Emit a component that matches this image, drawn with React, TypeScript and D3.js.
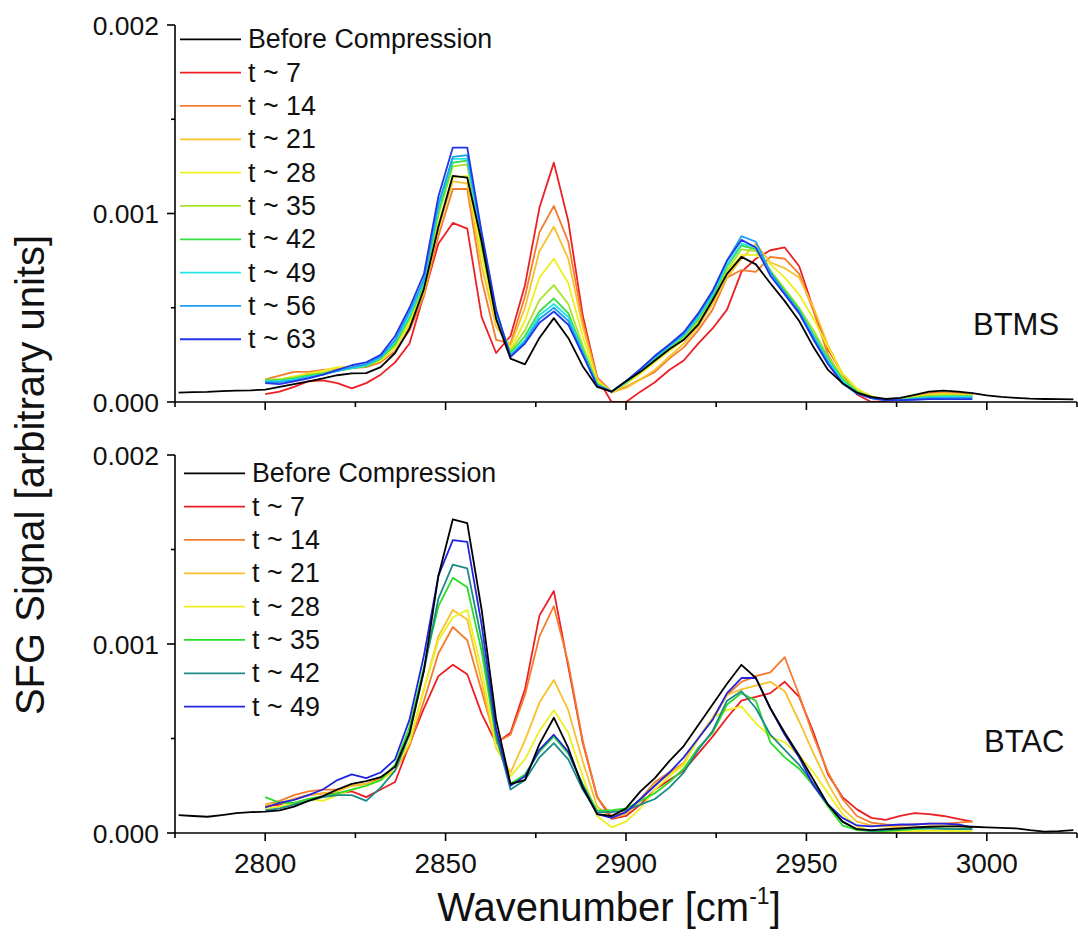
import React from "react";
import * as d3 from "d3";

// ---------- data (signal values in units of 1e-4) ----------
const UNIT = 1e-4;

const wavenumbers = [
  2800, 2804, 2808, 2812, 2816, 2820, 2824, 2828, 2832, 2836,
  2840, 2844, 2848, 2852, 2856, 2860, 2864, 2868, 2872, 2876,
  2880, 2884, 2888, 2892, 2896, 2900, 2904, 2908, 2912, 2916,
  2920, 2924, 2928, 2932, 2936, 2940, 2944, 2948, 2952, 2956,
  2960, 2964, 2968, 2972, 2976, 2980, 2984, 2988, 2992, 2996,
];

const wavenumbersBefore = [
  2776, 2780, 2784, 2788, 2792, 2796,
  2800, 2804, 2808, 2812, 2816, 2820, 2824, 2828, 2832, 2836,
  2840, 2844, 2848, 2852, 2856, 2860, 2864, 2868, 2872, 2876,
  2880, 2884, 2888, 2892, 2896, 2900, 2904, 2908, 2912, 2916,
  2920, 2924, 2928, 2932, 2936, 2940, 2944, 2948, 2952, 2956,
  2960, 2964, 2968, 2972, 2976, 2980, 2984, 2988, 2992, 2996,
  3000, 3004, 3008, 3012, 3016, 3020, 3024,
];

// ----- BTMS (top panel) -----
const btmsBefore = [
  0.5, 0.52, 0.54, 0.58, 0.6, 0.62,
  0.66, 0.8, 0.95, 1.1, 1.25, 1.42, 1.52, 1.53, 1.85, 2.6,
  3.9, 6.0, 9.3, 12.0, 11.9, 8.5, 4.4, 2.3, 2.0, 3.4,
  4.45, 3.4, 1.9, 0.8, 0.55, 1.1, 1.6, 2.2, 2.8, 3.3,
  4.1, 5.4, 6.8, 7.7, 7.3, 6.3, 5.35, 4.3, 2.9, 1.7,
  1.0, 0.5, 0.27, 0.16, 0.22, 0.38, 0.55, 0.6, 0.55, 0.47,
  0.35, 0.27, 0.22, 0.18, 0.16, 0.15, 0.14,
];
const btmsT7 = [
  0.42, 0.55, 0.8, 1.1, 1.15, 1.0, 0.72, 1.0, 1.45, 2.1,
  3.1, 5.7, 8.4, 9.5, 9.2, 4.5, 2.6, 3.5, 6.2, 10.3,
  12.7, 9.6, 4.6, 1.3, 0.0, 0.0, 0.55, 1.05, 1.7, 2.2,
  3.1, 3.9, 4.9, 6.9, 7.6, 8.05, 8.2, 7.2, 4.9, 2.8,
  1.5, 0.4, 0.0, 0.05, 0.15, 0.3, 0.45, 0.5, 0.45, 0.4,
];
const btmsT14 = [
  1.2, 1.4, 1.6, 1.6, 1.7, 1.75, 1.8, 1.85, 2.1, 2.7,
  3.8, 5.6, 8.8, 11.3, 11.3, 6.5, 3.3, 3.1, 5.6, 9.0,
  10.4, 8.5, 4.3, 1.3, 0.55, 0.8, 1.2, 1.6, 2.3, 2.9,
  3.8, 4.9, 6.6, 7.0, 6.9, 7.7, 7.6, 6.8, 4.8, 2.5,
  1.2, 0.6, 0.25, 0.1, 0.15, 0.3, 0.45, 0.5, 0.45, 0.38,
];
const btmsT21 = [
  1.15, 1.2, 1.35, 1.5, 1.65, 1.8, 1.85, 1.9, 2.2, 2.9,
  4.1, 5.8, 9.2, 11.7, 11.6, 7.2, 4.0, 3.0, 5.0, 8.0,
  9.3, 7.6, 4.0, 1.2, 0.5, 0.75, 1.2, 1.7, 2.4, 3.1,
  4.0, 5.2, 6.6, 7.6, 8.4, 7.4, 7.1, 6.6, 5.0, 3.0,
  1.5, 0.7, 0.3, 0.12, 0.15, 0.3, 0.42, 0.45, 0.42, 0.38,
];
const btmsT28 = [
  1.15, 1.2, 1.35, 1.5, 1.65, 1.85, 1.85, 1.95, 2.2, 2.9,
  4.2, 6.0, 9.5, 11.9, 12.0, 7.8, 4.3, 2.8, 4.3, 6.6,
  7.6, 6.3, 3.5, 1.1, 0.55, 0.95, 1.5, 2.1, 2.7, 3.3,
  4.2, 5.4, 6.9, 7.8, 7.8, 7.3, 6.6, 5.7, 4.4, 2.9,
  1.5, 0.7, 0.3, 0.12, 0.15, 0.25, 0.35, 0.4, 0.38, 0.35,
];
const btmsT35 = [
  1.2, 1.2, 1.3, 1.45, 1.55, 1.7, 1.8, 1.9, 2.3, 3.0,
  4.4, 6.2, 9.9, 12.5, 12.6, 8.2, 4.5, 2.7, 3.8, 5.4,
  6.2, 5.2, 3.0, 1.0, 0.55, 1.0, 1.6, 2.2, 2.8, 3.4,
  4.3, 5.5, 7.0, 8.1, 8.0, 7.0, 6.0, 5.0, 3.8, 2.4,
  1.3, 0.6, 0.25, 0.12, 0.15, 0.25, 0.32, 0.35, 0.35, 0.32,
];
const btmsT42 = [
  1.15, 1.15, 1.25, 1.4, 1.5, 1.65, 1.78, 1.9, 2.3, 3.1,
  4.5, 6.3, 10.1, 12.7, 12.8, 8.4, 4.6, 2.6, 3.5, 4.8,
  5.5, 4.7, 2.8, 0.95, 0.55, 1.05, 1.65, 2.3, 2.9, 3.5,
  4.4, 5.6, 7.2, 8.3, 8.1, 6.9, 5.9, 4.9, 3.6, 2.3,
  1.2, 0.55, 0.2, 0.1, 0.12, 0.2, 0.28, 0.3, 0.3, 0.3,
];
const btmsT49 = [
  1.1, 1.1, 1.2, 1.35, 1.45, 1.65, 1.8, 1.95, 2.35, 3.2,
  4.6, 6.4, 10.3, 12.9, 12.9, 8.6, 4.7, 2.5, 3.3, 4.6,
  5.2, 4.5, 2.7, 0.9, 0.55, 1.05, 1.7, 2.35, 2.95, 3.55,
  4.5, 5.7, 7.3, 8.4, 8.2, 6.8, 5.8, 4.8, 3.5, 2.2,
  1.1, 0.5, 0.2, 0.1, 0.1, 0.18, 0.25, 0.28, 0.28, 0.28,
];
const btmsT56 = [
  1.05, 1.05, 1.15, 1.3, 1.45, 1.65, 1.85, 2.0, 2.4, 3.3,
  4.8, 6.5, 10.5, 13.0, 13.1, 8.8, 4.8, 2.45, 3.2, 4.4,
  5.0, 4.3, 2.6, 0.9, 0.55, 1.1, 1.7, 2.4, 3.0, 3.6,
  4.6, 5.8, 7.5, 8.8, 8.5, 6.9, 5.8, 4.8, 3.4, 2.1,
  1.0, 0.45, 0.2, 0.1, 0.1, 0.15, 0.2, 0.22, 0.22, 0.22,
];
const btmsT63 = [
  1.0, 0.95, 1.1, 1.25, 1.45, 1.7, 1.95, 2.1, 2.5, 3.5,
  5.0, 6.8, 10.9, 13.5, 13.5, 9.0, 4.9, 2.4, 3.1, 4.2,
  4.8, 4.1, 2.5, 0.85, 0.55, 1.1, 1.75, 2.45, 3.05, 3.7,
  4.7, 5.9, 7.5, 8.6, 8.2, 6.7, 5.7, 4.7, 3.3, 2.0,
  1.0, 0.45, 0.2, 0.1, 0.1, 0.12, 0.15, 0.15, 0.15, 0.15,
];

// ----- BTAC (bottom panel) -----
const btacBefore = [
  0.95, 0.9, 0.86, 0.95, 1.05, 1.1,
  1.13, 1.2, 1.4, 1.7, 1.95, 2.3, 2.6, 2.75, 2.95, 3.5,
  5.3, 8.6, 13.6, 16.6, 16.4, 11.8, 6.0, 2.6, 2.8, 4.7,
  6.1, 4.5, 2.4, 1.0, 0.9, 1.3, 2.2, 2.9, 3.8, 4.6,
  5.7, 6.8, 7.9, 8.9, 8.2, 6.6, 5.3, 4.1, 2.8, 1.5,
  0.6, 0.2, 0.15, 0.2, 0.25, 0.3, 0.33, 0.35, 0.35, 0.33,
  0.3, 0.27, 0.25, 0.15, 0.07, 0.1, 0.15,
];
const btacT7 = [
  1.4, 1.5, 1.8, 2.0, 2.1, 2.1, 2.2, 1.9, 2.3, 2.7,
  4.7, 6.6, 8.3, 8.9, 8.4, 6.3, 4.75, 5.3, 7.6, 11.5,
  12.8, 8.8, 4.8, 1.9, 0.75, 0.9, 1.5, 2.3, 2.8, 3.3,
  4.2, 5.1, 6.1, 7.0, 7.2, 7.4, 8.0, 7.2, 5.3, 3.1,
  1.9, 1.25, 0.8, 0.7, 0.9, 1.05, 1.0, 0.9, 0.75, 0.6,
];
const btacT14 = [
  1.5, 1.7, 2.0, 2.2, 2.3, 2.3, 2.5, 2.6, 2.9, 3.3,
  4.6, 7.0, 9.5, 10.9, 10.2, 7.5, 4.8, 5.2, 7.3, 10.4,
  12.0, 9.0, 4.9, 1.9, 0.9, 1.1, 1.8, 2.7, 3.2, 3.7,
  5.0, 6.0, 7.3, 8.0, 8.3, 8.5, 9.3, 7.3, 5.1, 3.2,
  1.8, 0.9, 0.55, 0.45, 0.4, 0.45, 0.5, 0.5, 0.55, 0.6,
];
const btacT21 = [
  1.5, 1.6, 1.8, 2.0, 2.1, 2.2, 2.5, 2.6, 2.8, 3.3,
  4.8, 7.6, 10.4, 11.8, 11.3, 8.0, 4.5, 3.2, 4.9, 6.9,
  8.1, 6.5, 3.8, 1.4, 0.8, 1.0, 1.7, 2.6, 3.1, 3.7,
  5.0, 6.1, 7.3, 7.6, 7.8, 8.0, 7.5, 5.9, 4.2, 2.6,
  1.3, 0.6, 0.4, 0.35, 0.3, 0.3, 0.35, 0.35, 0.35, 0.3,
];
const btacT28 = [
  1.3, 1.4, 1.6, 1.8, 1.7, 2.0, 2.3, 2.5, 2.8, 3.3,
  4.8, 7.6, 10.2, 11.4, 11.8, 8.6, 4.6, 3.0, 3.9, 5.4,
  6.5, 5.3, 3.0, 0.9, 0.3, 0.6, 1.3, 2.3, 3.0, 3.6,
  5.0, 6.1, 6.5, 6.7, 5.8, 5.1, 4.8, 4.1, 3.2, 2.1,
  1.0, 0.35, 0.1, 0.05, 0.1, 0.1, 0.12, 0.12, 0.1, 0.1,
];
const btacT35 = [
  1.9, 1.6, 1.6, 1.8, 1.95, 2.1, 2.3, 2.5, 2.8, 3.6,
  5.6, 8.8, 12.0, 13.5, 13.0, 9.6, 5.0, 2.6, 3.1, 4.3,
  5.1, 4.2, 2.6, 1.2, 1.2, 1.3, 1.7, 2.1, 2.7, 3.4,
  4.5, 5.3, 6.8, 7.4, 7.0, 4.8, 4.0, 3.4, 2.5, 1.4,
  0.4, 0.15, 0.1, 0.1, 0.15, 0.2, 0.25, 0.25, 0.22, 0.2,
];
const btacT42 = [
  1.2, 1.3, 1.5, 1.7, 1.9, 2.0, 2.0, 1.7, 2.4, 3.3,
  5.2, 8.6, 12.4, 14.2, 14.0, 10.2, 5.2, 2.3, 2.8, 4.0,
  4.75, 3.9, 2.3, 1.1, 1.1, 1.2, 1.5, 1.8, 2.4, 3.2,
  4.4, 5.4, 7.0, 7.5, 6.6, 5.2, 4.4, 3.6, 2.6, 1.5,
  0.6, 0.2, 0.12, 0.15, 0.2, 0.25, 0.25, 0.22, 0.2, 0.2,
];
const btacT49 = [
  1.35, 1.6, 1.75, 2.0, 2.3, 2.8, 3.1, 2.9, 3.2, 3.9,
  6.0, 9.4, 13.6, 15.5, 15.4, 11.0, 5.5, 2.5, 3.0, 4.4,
  5.2, 4.3, 2.5, 1.0, 0.8, 1.1, 1.8, 2.5, 3.2, 4.0,
  5.0, 6.0, 7.4, 8.2, 8.2, 6.6, 5.2, 4.0, 2.5, 1.5,
  0.8, 0.4, 0.35, 0.4, 0.45, 0.45, 0.5, 0.5, 0.45, 0.3,
];

const btmsLabels = ["Before Compression", "t ~ 7", "t ~ 14", "t ~ 21", "t ~ 28", "t ~ 35", "t ~ 42", "t ~ 49", "t ~ 56", "t ~ 63"];
const btmsColors = ["#000000", "#ec1f24", "#f47b2e", "#f7c12c", "#eef01e", "#a8e32c", "#35dc45", "#24e4e4", "#1c9ff0", "#2236e8"];
const btmsValues = [btmsBefore, btmsT7, btmsT14, btmsT21, btmsT28, btmsT35, btmsT42, btmsT49, btmsT56, btmsT63];

const btacLabels = ["Before Compression", "t ~ 7", "t ~ 14", "t ~ 21", "t ~ 28", "t ~ 35", "t ~ 42", "t ~ 49"];
const btacColors = ["#000000", "#ec1f24", "#f47b2e", "#f7c12c", "#eef01e", "#27dd27", "#1d8a8a", "#2424e0"];
const btacValues = [btacBefore, btacT7, btacT14, btacT21, btacT28, btacT35, btacT42, btacT49];

const xMajorTicks = [2800, 2850, 2900, 2950, 3000];
const xMinorTicks = [2775, 2825, 2875, 2925, 2975, 3025];
const yMajorTicks = [0, 0.001, 0.002];
const yMinorTicks = [0.0005, 0.0015];

// ---------- layout ----------
const W = 1078;
const H = 936;
const LEFT = 175;
const RIGHT = 1077;
const FONT = "'Liberation Sans', Arial, Helvetica, sans-serif";

const x = d3.scaleLinear().domain([2775, 3025]).range([LEFT, RIGHT]);

type PanelProps = {
  id: string;
  top: number;
  bottom: number;
  labels: string[];
  colors: string[];
  values: number[][];
  name: string;
  nameX: number;
  nameY: number;
  legendX: number;
  legendY: number;
  showXLabels: boolean;
};

function Panel(p: PanelProps) {
  const y = d3.scaleLinear().domain([0, 0.002]).range([p.bottom, p.top]);
  const line = d3
    .line<[number, number]>()
    .x((d) => x(d[0]))
    .y((d) => y(d[1] * UNIT));

  const seriesPaths = p.values.map((vals, i) => {
    const xs = i === 0 ? wavenumbersBefore : wavenumbers;
    const pts: [number, number][] = vals.map((v, j) => [xs[j], v]);
    return line(pts) || "";
  });
  // draw coloured ones first, black (Before Compression) on top
  const order = p.values.map((_, i) => i).slice(1).concat([0]);

  return (
    <g>
      <defs>
        <clipPath id={`clip-${p.id}`}>
          <rect x={LEFT} y={p.top} width={RIGHT - LEFT} height={p.bottom - p.top} />
        </clipPath>
      </defs>
      <g clipPath={`url(#clip-${p.id})`}>
        {order.map((i) => (
          <path
            key={i}
            d={seriesPaths[i]}
            fill="none"
            stroke={p.colors[i]}
            strokeWidth={1.8}
            strokeLinejoin="round"
          />
        ))}
      </g>

      {/* axes */}
      <line x1={LEFT} x2={LEFT} y1={p.top} y2={p.bottom} stroke="#000" strokeWidth={1.6} />
      <line x1={LEFT} x2={RIGHT} y1={p.bottom} y2={p.bottom} stroke="#000" strokeWidth={1.6} />
      {yMajorTicks.map((t) => (
        <g key={`ym${t}`}>
          <line x1={LEFT - 8} x2={LEFT} y1={y(t)} y2={y(t)} stroke="#000" strokeWidth={1.6} />
          <text
            x={LEFT - 16}
            y={y(t)}
            dy="0.36em"
            textAnchor="end"
            fontSize={26.5}
            fontFamily={FONT}
            fill="#111"
          >
            {d3.format(".3f")(t)}
          </text>
        </g>
      ))}
      {yMinorTicks.map((t) => (
        <line key={`yn${t}`} x1={LEFT - 4} x2={LEFT} y1={y(t)} y2={y(t)} stroke="#000" strokeWidth={1.6} />
      ))}
      {xMajorTicks.map((t) => (
        <g key={`xm${t}`}>
          <line x1={x(t)} x2={x(t)} y1={p.bottom} y2={p.bottom + 8} stroke="#000" strokeWidth={1.6} />
          {p.showXLabels && (
            <text
              x={x(t)}
              y={p.bottom + 40}
              textAnchor="middle"
              fontSize={28}
              fontFamily={FONT}
              fill="#111"
            >
              {t}
            </text>
          )}
        </g>
      ))}
      {xMinorTicks.map((t) => (
        <line key={`xn${t}`} x1={x(t)} x2={x(t)} y1={p.bottom} y2={p.bottom + 5} stroke="#000" strokeWidth={1.6} />
      ))}

      {/* legend */}
      {p.labels.map((lab, i) => {
        const ly = p.legendY + i * 33.33;
        return (
          <g key={`lg${i}`}>
            <line
              x1={p.legendX}
              x2={p.legendX + 61}
              y1={ly}
              y2={ly}
              stroke={p.colors[i]}
              strokeWidth={1.8}
            />
            <text x={p.legendX + 68} y={ly + 9} fontSize={26.8} fontFamily={FONT} fill="#111">
              {lab}
            </text>
          </g>
        );
      })}

      <text x={p.nameX} y={p.nameY} fontSize={31} fontFamily={FONT} fill="#111">
        {p.name}
      </text>
    </g>
  );
}

export default function App() {
  return (
    <svg
      width={W}
      height={H}
      viewBox={`0 0 ${W} ${H}`}
      style={{ position: "absolute", left: 0, top: 0, background: "#fff" }}
    >
      <rect x={0} y={0} width={W} height={H} fill="#fff" />
      <Panel
        id="btms"
        top={25}
        bottom={402}
        labels={btmsLabels}
        colors={btmsColors}
        values={btmsValues}
        name="BTMS"
        nameX={973}
        nameY={335}
        legendX={180}
        legendY={39.3}
        showXLabels={false}
      />
      <Panel
        id="btac"
        top={455}
        bottom={833}
        labels={btacLabels}
        colors={btacColors}
        values={btacValues}
        name="BTAC"
        nameX={984}
        nameY={752}
        legendX={184}
        legendY={473.3}
        showXLabels={true}
      />
      <text
        transform="translate(44,475) rotate(-90)"
        textAnchor="middle"
        fontSize={40}
        fontFamily={FONT}
        fill="#111"
      >
        SFG Signal [arbitrary units]
      </text>
      <text x={609} y={921} textAnchor="middle" fontSize={40} fontFamily={FONT} fill="#111">
        Wavenumber [cm
        <tspan fontSize={23} dy={-17}>
          -1
        </tspan>
        <tspan dy={17}>]</tspan>
      </text>
    </svg>
  );
}
